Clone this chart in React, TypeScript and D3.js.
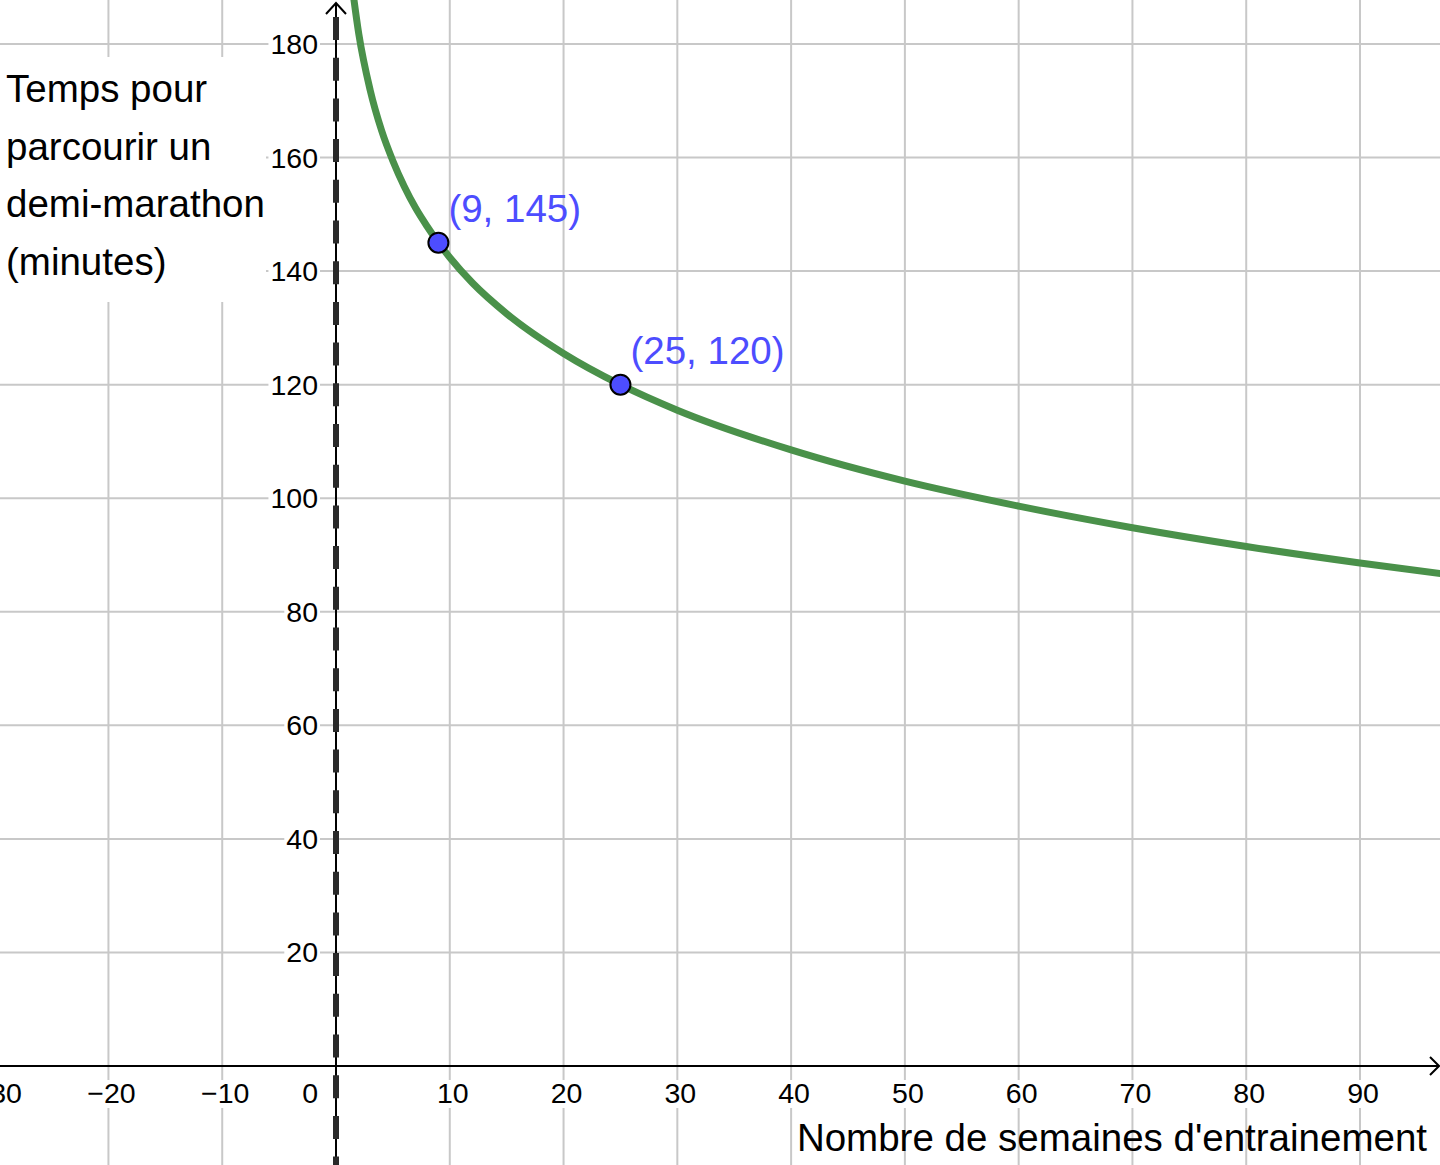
import React, { useEffect, useRef } from "react";
import * as d3 from "d3";

// curve (weeks of training -> minutes)
const weeks = [1.4, 2, 3, 4, 5, 6, 7, 8, 9, 10, 12, 15, 20, 25, 30, 40, 50, 60, 70, 80, 90, 98];
const minutes = [190.5, 181.8, 171.9, 164.8, 159.4, 154.9, 151.1, 147.9, 145, 142.4, 137.9, 132.5, 125.5, 120, 115.5, 108.5, 103.0, 98.6, 94.8, 91.5, 88.6, 86.5];

const markedWeeks = [9, 25];
const markedMinutes = [145, 120];
const markedLabels = ["(9, 145)", "(25, 120)"];

const xTicks = [-30, -20, -10, 10, 20, 30, 40, 50, 60, 70, 80, 90];
const yTicks = [20, 40, 60, 80, 100, 120, 140, 160, 180];
const yTitleLines = ["Temps pour", "parcourir un", "demi-marathon", "(minutes)"];
const xTitle = "Nombre de semaines d'entrainement";

const W = 1440;
const H = 1165;
const FONT = '"Liberation Sans", Arial, Helvetica, sans-serif';
const GRID = "#c8c8c8";
const GREEN = "#4a914a";
const BLUE = "#4d4dff";

function fmt(v: number) {
  return v < 0 ? "\u2212" + Math.abs(v) : String(v);
}

function App() {
  const svgRef = useRef<SVGSVGElement | null>(null);

  useEffect(() => {
    drawChart();
  }, []);

  const drawChart = () => {
    const svg = d3.select(svgRef.current);
    svg.selectAll("*").remove();

    const x = d3.scaleLinear().domain([0, 90]).range([336, 1360]);
    const y = d3.scaleLinear().domain([0, 180]).range([1066, 44]);

    svg.append("rect").attr("width", W).attr("height", H).attr("fill", "#fff");

    // grid
    const grid = svg.append("g").attr("stroke", GRID).attr("stroke-width", 2);
    xTicks.forEach((t) => {
      grid.append("line").attr("x1", x(t)).attr("x2", x(t)).attr("y1", 0).attr("y2", H);
    });
    yTicks.forEach((t) => {
      grid.append("line").attr("x1", 0).attr("x2", W).attr("y1", y(t)).attr("y2", y(t));
    });

    // y title on white box
    svg.append("rect").attr("x", 0).attr("y", 57).attr("width", 266).attr("height", 245).attr("fill", "#fff");
    svg
      .append("g")
      .selectAll("text")
      .data(yTitleLines)
      .enter()
      .append("text")
      .attr("x", 6)
      .attr("y", (d, i) => 102 + i * 57.7)
      .attr("font-family", FONT)
      .attr("font-size", 38.5)
      .attr("fill", "#000")
      .text((d) => d);

    // tick labels with white background
    const labels = svg.append("g").attr("font-family", FONT).attr("font-size", 28.5).attr("fill", "#000");
    const boxed = (tx: number, ty: number, anchor: string, s: string) => {
      const g = labels.append("g");
      const t = g.append("text").attr("x", tx).attr("y", ty).attr("text-anchor", anchor).text(s);
      const b = (t.node() as SVGTextElement).getBBox();
      g.insert("rect", "text")
        .attr("x", b.x - 2)
        .attr("y", b.y + 3)
        .attr("width", b.width + 4)
        .attr("height", b.height - 4)
        .attr("fill", "#fff");
    };
    xTicks.forEach((t) => boxed(x(t) + 3, 1103, "middle", fmt(t)));
    boxed(318, 1103, "end", "0");
    yTicks.forEach((t) => boxed(318, y(t) + 10, "end", String(t)));

    // axes
    const axes = svg.append("g").attr("stroke", "#000").attr("stroke-width", 2).attr("fill", "none");
    axes.append("line").attr("x1", 0).attr("x2", W - 2).attr("y1", y(0)).attr("y2", y(0));
    axes.append("line").attr("x1", x(0)).attr("x2", x(0)).attr("y1", 3).attr("y2", H);
    axes.append("path").attr("d", `M${x(0) - 10},14 L${x(0)},3 L${x(0) + 10},14`);
    axes.append("path").attr("d", `M${W - 10},${y(0) - 9} L${W - 1},${y(0)} L${W - 10},${y(0) + 9}`);

    // asymptote
    svg
      .append("line")
      .attr("x1", x(0))
      .attr("x2", x(0))
      .attr("y1", 17)
      .attr("y2", H)
      .attr("stroke", "#2a2a2a")
      .attr("stroke-width", 6)
      .attr("stroke-dasharray", "23 17.7");

    // curve
    const data = weeks.map((w, i) => ({ w, m: minutes[i] }));
    const line = d3
      .line<{ w: number; m: number }>()
      .x((d) => x(d.w))
      .y((d) => y(d.m))
      .curve(d3.curveMonotoneX);
    svg
      .append("path")
      .datum(data)
      .attr("fill", "none")
      .attr("stroke", GREEN)
      .attr("stroke-width", 7)
      .attr("d", line);

    // marked points
    const pts = markedWeeks.map((w, i) => ({ w, m: markedMinutes[i], label: markedLabels[i] }));
    svg
      .selectAll(".point")
      .data(pts)
      .enter()
      .append("circle")
      .attr("class", "point")
      .attr("cx", (d) => x(d.w))
      .attr("cy", (d) => y(d.m))
      .attr("r", 10)
      .attr("fill", BLUE)
      .attr("stroke", "#000")
      .attr("stroke-width", 2);
    svg
      .selectAll(".plabel")
      .data(pts)
      .enter()
      .append("text")
      .attr("class", "plabel")
      .attr("x", (d) => x(d.w) + 10)
      .attr("y", (d) => y(d.m) - 21)
      .attr("font-family", FONT)
      .attr("font-size", 38.5)
      .attr("fill", BLUE)
      .text((d) => d.label);

    // x title
    svg
      .append("text")
      .attr("x", 1427)
      .attr("y", 1151)
      .attr("text-anchor", "end")
      .attr("font-family", FONT)
      .attr("font-size", 38.5)
      .attr("fill", "#000")
      .text(xTitle);
  };

  return (
    <div style={{ position: "absolute", left: 0, top: 0 }}>
      <svg ref={svgRef} width={W} height={H} style={{ display: "block" }} />
    </div>
  );
}

export default App;
